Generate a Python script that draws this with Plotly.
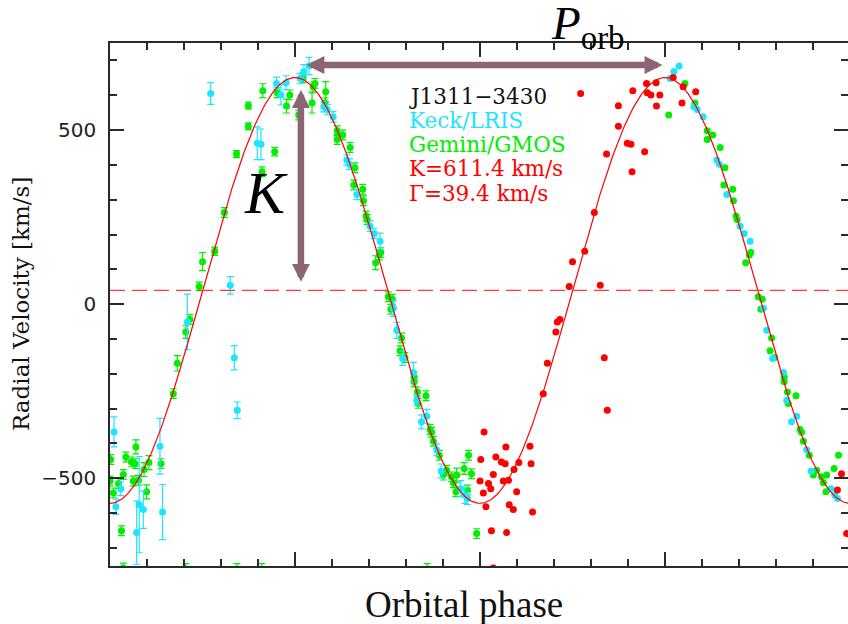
import numpy as np
import plotly.graph_objects as go

# Orbit solution for J1311-3430
K_AMP = 611.4   # semi-amplitude, km/s
GAMMA = 39.4    # systemic velocity, km/s

# Keck/LRIS velocities: orbital phase, RV (km/s), 1-sigma error (km/s)
keck_phase = [0.011, 0.016, 0.029, 0.072, 0.079, 0.090, 0.135, 0.142, 0.209, 0.272,
              0.325, 0.336, 0.344, 0.398, 0.408, 0.450, 0.462, 0.476, 0.514, 0.524,
              0.538, 0.578, 0.587, 0.603, 0.640, 0.647, 0.667, 0.703, 0.714, 0.730,
              0.766, 0.775, 0.791, 0.820, 0.829, 0.842, 0.856, 0.883, 0.895, 0.948,
              0.959, 0.966]
keck_rv = [-367, -582, -530, -656, -576, -590, -408, -597, -51, 605,
           54, -154, -305, 462, 459, 634, 601, 636, 648, 668,
           684, 567, 559, 538, 414, 402, 315, 224, 203, 181,
           -12, -75, -156, -196, -276, -338, -322, -418, -479, -530,
           -549, -558]
keck_err = [43, 22, 20, 91, 138, 54, 80, 79, 80, 31,
            25, 35, 24, 47, 44, 18, 29, 20, 15, 20,
            25, 15, 15, 15, 15, 15, 15, 15, 15, 23,
            23, 23, 20, 29, 15, 20, 20, 17, 20, 23,
            23, 17]

# Gemini/GMOS velocities
gmos_phase = [0.000, 0.002, 0.009, 0.023, 0.031, 0.036, 0.036, 0.043, 0.058, 0.063,
              0.068, 0.070, 0.077, 0.092, 0.099, 0.105, 0.138, 0.171, 0.182, 0.205,
              0.216, 0.241, 0.250, 0.283, 0.309, 0.342, 0.374, 0.374, 0.411, 0.413,
              0.445, 0.452, 0.477, 0.486, 0.510, 0.554, 0.581, 0.614, 0.614, 0.629,
              0.649, 0.659, 0.662, 0.683, 0.685, 0.692, 0.695, 0.718, 0.728, 0.732,
              0.752, 0.759, 0.763, 0.784, 0.788, 0.797, 0.822, 0.822, 0.831, 0.833,
              0.854, 0.865, 0.869, 0.874, 0.890, 0.901, 0.910, 0.923, 0.928, 0.935,
              0.937, 0.957, 0.969, 0.205, 0.343, 0.410, 0.857]
gmos_rv = [-508, -446, -542, -515, -651, -489, -758, -439, -453, -508,
           -458, -410, -506, -475, -539, -455, -458, -257, -170, -80,
           -44, 51, 122, 152, 263, 431, 511, 570, 380, 613,
           438, 607, 569, 601, 543, 634, 578, 473, 498, 486,
           450, 342, 392, 330, 297, 253, 243, 119, 141, 148,
           21, -15, 14, -134, -97, -153, -209, -223, -252, -285,
           -263, -360, -368, -394, -434, -491, -477, -496, -513, -539,
           -491, -472, -434, -800, -800, -800, -800]
gmos_err = [14, 14, 14, 14, 14, 14, 14, 14, 14, 14,
            14, 20, 14, 20, 20, 20, 14, 14, 22, 18,
            14, 12, 26, 12, 14, 10, 10, 10, 14, 20,
            12, 14, 20, 14, 14, 14, 14, 14, 14, 14,
            14, 14, 14, 14, 14, 14, 14, 20, 14, 14,
            14, 14, 14, 14, 14, 14, 14, 14, 14, 14,
            14, 14, 14, 14, 14, 14, 14, 14, 14, 14,
            20, 17, 14, 55, 55, 55, 55]

# Gemini/GMOS spectra that are marked in red on the repeated cycle
gmos_flag_phase = [0.522, 0.546, 0.549, 0.583, 0.966, 0.977, 0.991]
gmos_flag_rv = [651, 578, 624, 610, -534, -487, -659]
gmos_flag_err = [14, 29, 14, 29, 14, 14, 14]

legend_lines = ["J1311\u22123430", "Keck/LRIS", "Gemini/GMOS",
                "K=611.4 km/s", "\u0393=39.4 km/s"]

CYAN = "#1CE6FF"
GREEN = "#00EE00"
RED = "#FF0000"
ARROW = "#8C6473"
AXIS = "#2A2A2A"

W, H = 848, 624
ML, MR, MT, MB = 110, 0, 43, 58
PW, PH = W - ML - MR, H - MT - MB
PX_PER_CYCLE = 370.0
X_MAX = PW / PX_PER_CYCLE
Y_RANGE = [-752, 750]


def paper_x(px):
    return (px - ML) / PW


def paper_y(py):
    return 1 - (py - MT) / PH


fig = go.Figure()

# systemic velocity
fig.add_trace(go.Scatter(
    x=[0, X_MAX], y=[GAMMA, GAMMA], mode="lines", yaxis="y2",
    line=dict(color="#FF3A3A", width=1.2, dash="15px,7px"),
    hoverinfo="skip", showlegend=False))

marker_size = 7


def err_points(ph, rv, err, color):
    return go.Scatter(
        x=ph, y=rv, mode="markers",
        marker=dict(color=color, size=marker_size, line=dict(width=0)),
        error_y=dict(type="data", array=err, visible=True, color=color,
                     thickness=1.2, width=3.5),
        showlegend=False)


# first cycle, with error bars
fig.add_trace(err_points(gmos_phase, gmos_rv, gmos_err, GREEN))
fig.add_trace(err_points(gmos_flag_phase, gmos_flag_rv, gmos_flag_err, GREEN))
fig.add_trace(err_points(keck_phase, keck_rv, keck_err, CYAN))

# repeated cycle (phase + 1), no error bars
rep_x = {GREEN: [], CYAN: [], RED: []}
rep_y = {GREEN: [], CYAN: [], RED: []}
for ph_list, rv_list, base in ((gmos_phase, gmos_rv, GREEN), (keck_phase, keck_rv, CYAN)):
    for ph, rv in zip(ph_list, rv_list):
        col = RED if ph < 0.5 else base
        rep_x[col].append(ph + 1)
        rep_y[col].append(rv)
for ph, rv in zip(gmos_flag_phase, gmos_flag_rv):
    rep_x[RED].append(ph + 1)
    rep_y[RED].append(rv)

for col in (GREEN, CYAN, RED):
    fig.add_trace(go.Scatter(
        x=rep_x[col], y=rep_y[col], mode="markers",
        marker=dict(color=col, size=marker_size, line=dict(width=0)),
        showlegend=False))

# circular-orbit model
phase_grid = np.linspace(0, X_MAX, 800)
model = GAMMA - K_AMP * np.cos(2 * np.pi * phase_grid)
fig.add_trace(go.Scatter(x=phase_grid, y=model, mode="lines",
                         line=dict(color=RED, width=1.2), showlegend=False))

annotations = []

# K and P_orb arrows
K_ARROW_PHASE = 0.516
K_ARROW_LOW, K_ARROW_HIGH = 60, 615
P_ARROW_RV = 687
P_ARROW_START, P_ARROW_END = 0.527, 1.493
arrow_style = dict(text="", showarrow=True, arrowside="end+start",
                   arrowhead=2, startarrowhead=2, arrowsize=0.55,
                   startarrowsize=0.55, arrowwidth=6.5, arrowcolor=ARROW,
                   xref="x", yref="y", axref="x", ayref="y", standoff=0,
                   startstandoff=0)
annotations.append(dict(x=K_ARROW_PHASE, y=K_ARROW_HIGH, ax=K_ARROW_PHASE,
                        ay=K_ARROW_LOW, **arrow_style))
annotations.append(dict(x=P_ARROW_END, y=P_ARROW_RV, ax=P_ARROW_START,
                        ay=P_ARROW_RV, **arrow_style))

annotations.append(dict(
    text="K", x=paper_x(266), y=paper_y(193), xref="paper", yref="paper",
    xanchor="center", yanchor="middle", showarrow=False,
    font=dict(family="Liberation Serif", size=60, color="#000", style="italic")))
annotations.append(dict(
    text="<i>P</i><sub>orb</sub>", x=paper_x(549), y=paper_y(26),
    xref="paper", yref="paper", xanchor="left", yanchor="middle",
    showarrow=False,
    font=dict(family="Liberation Serif", size=47, color="#000")))

# text block
text_colors = ["#111111", CYAN, GREEN, RED, RED]
for i, (line, col) in enumerate(zip(legend_lines, text_colors)):
    annotations.append(dict(
        text=line, x=paper_x(407), y=paper_y(96 + 24.25 * i),
        xref="paper", yref="paper", xanchor="left", yanchor="middle",
        showarrow=False,
        font=dict(family="DejaVu Serif", size=21.5, color=col)))

# axis titles
annotations.append(dict(
    text="Orbital phase", x=paper_x(464), y=paper_y(604),
    xref="paper", yref="paper", xanchor="center", yanchor="middle",
    showarrow=False,
    font=dict(family="Liberation Serif", size=37, color="#111")))
annotations.append(dict(
    text="Radial Velocity [km/s]", x=paper_x(21), y=paper_y(304),
    xref="paper", yref="paper", xanchor="center", yanchor="middle",
    textangle=-90, showarrow=False,
    font=dict(family="DejaVu Serif", size=23, color="#111")))

fig.update_layout(
    width=W, height=H,
    margin=dict(l=ML, r=MR, t=MT, b=MB, pad=0),
    paper_bgcolor="white", plot_bgcolor="white",
    showlegend=False,
    annotations=annotations,
    xaxis=dict(range=[0, X_MAX], tickmode="linear", tick0=0, dtick=0.5,
               ticks="inside", ticklen=14, tickwidth=1.5, tickcolor=AXIS,
               minor=dict(dtick=0.1, tick0=0, ticks="inside", ticklen=7,
                          tickwidth=1.5, tickcolor=AXIS),
               showticklabels=False, showgrid=False, zeroline=False,
               showline=True, linecolor=AXIS, linewidth=1.5, mirror="ticks"),
    yaxis=dict(range=Y_RANGE, tickmode="linear", tick0=0, dtick=500,
               ticks="inside", ticklen=14, tickwidth=1.5, tickcolor=AXIS,
               minor=dict(dtick=100, tick0=0, ticks="inside", ticklen=7,
                          tickwidth=1.5, tickcolor=AXIS),
               tickfont=dict(family="DejaVu Sans", size=20, color="#222"),
               ticklabelstandoff=8,
               showgrid=False, zeroline=False,
               showline=True, linecolor=AXIS, linewidth=1.5),
    yaxis2=dict(range=Y_RANGE, overlaying="y", side="right", anchor="x",
                tickmode="linear", tick0=0, dtick=500,
                ticks="inside", ticklen=14, tickwidth=1.5, tickcolor=AXIS,
                minor=dict(dtick=100, tick0=0, ticks="inside", ticklen=7,
                           tickwidth=1.5, tickcolor=AXIS),
                showticklabels=False, showgrid=False, zeroline=False,
                showline=False),
)

fig.write_html("out.html")
